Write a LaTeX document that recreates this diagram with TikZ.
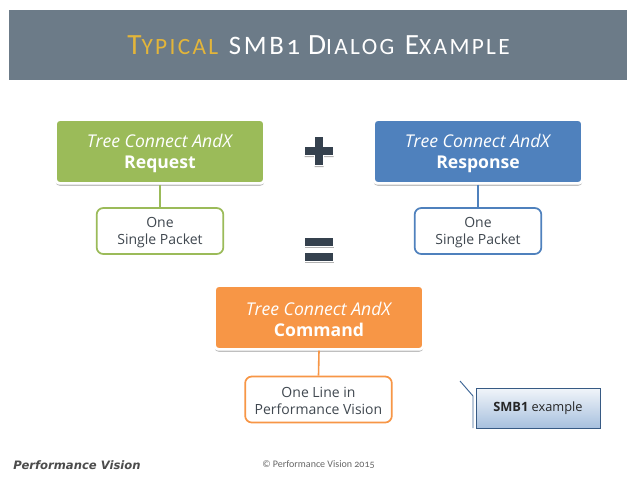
\documentclass[tikz,border=0pt]{standalone}
\usepackage{fontspec}
\setmainfont{Open Sans}
\newfontfamily\titlefont[Numbers=OldStyle]{Carlito}
\newfontfamily\logofont{DejaVu Sans}
\usetikzlibrary{shadows,calc}
\definecolor{banner}{HTML}{6C7B88}
\definecolor{titlegold}{HTML}{E3B53A}
\definecolor{cgreen}{HTML}{9BBB59}
\definecolor{cblue}{HTML}{4F81BD}
\definecolor{corange}{HTML}{F79646}
\definecolor{symb}{HTML}{35414E}
\definecolor{txt}{HTML}{404850}
\tikzset{
  x=0.75pt,y=-0.75pt,
  headbox/.style={draw=white,line width=2pt,rounded corners=3pt,text=white,align=center,
    minimum width=156.6pt,minimum height=47.8pt,inner sep=0pt,font=\fontsize{13.2}{15.8}\selectfont,
    drop shadow={shadow xshift=0pt,shadow yshift=-1.8pt,fill=black!50,opacity=.5}},
  subbox/.style={draw,fill=white,line width=1.3pt,rounded corners=5pt,text=txt,align=center,
    inner sep=0pt,minimum height=34.5pt,font=\fontsize{10.5}{12.8}\selectfont},
  link/.style={line width=1.2pt},
  symbar/.style={fill=symb,draw=white,line width=.8pt,drop shadow={shadow xshift=0pt,shadow yshift=-1.2pt,fill=black!55,opacity=.55}}
}
\newcommand{\capsmall}[2]{{\fontsize{22}{24}\selectfont #1}{\fontsize{17.5}{24}\selectfont #2}}
\newcommand{\headtext}[2]{\rule{0pt}{13pt}\textit{#1}\\\textbf{#2}}
\newcommand{\subtext}[2]{\rule{0pt}{10.5pt}#1\\#2}
\begin{document}
\begin{tikzpicture}
\useasboundingbox (0,0) rectangle (638,479);
\fill[white] (0,0) rectangle (638,479);
% banner
\fill[banner] (9,9.5) rectangle (627,79.5);
\node[anchor=center,inner sep=0pt,font=\titlefont,text=white] (title) at (318.5,45.5)
 {\addfontfeature{LetterSpace=10}\textcolor{titlegold}{\capsmall{T}{YPICAL}}\hspace{8pt}{\fontsize{20}{24}\selectfont SMB1}\hspace{6pt}\capsmall{D}{IALOG}\hspace{8pt}\capsmall{E}{XAMPLE}};
% head boxes
\node[headbox,fill=cgreen] (req) at (160,151.5) {\headtext{Tree Connect AndX}{Request}};
\node[headbox,fill=cblue] (resp) at (478,151.5) {\headtext{Tree Connect AndX}{Response}};
\node[headbox,fill=corange] (cmd) at (319,317.5) {\headtext{Tree Connect AndX}{Command}};
% sub boxes
\node[subbox,draw=cgreen,minimum width=95pt] (reqs) at (160,231) {\subtext{One}{Single Packet}};
\node[subbox,draw=cblue,minimum width=95pt] (resps) at (478,231) {\subtext{One}{Single Packet}};
\node[subbox,draw=corange,minimum width=110pt] (cmds) at (318.5,399.5) {\subtext{One Line in}{Performance Vision}};
% connectors
\draw[link,draw=cgreen] (req.south) -- (reqs.north);
\draw[link,draw=cblue] (resp.south) -- (resps.north);
\draw[link,draw=corange] (cmd.south) -- (cmds.north);
% plus
\path[symbar] (304.5,146.5) -- (314.5,146.5) -- (314.5,136.5) -- (323.5,136.5) -- (323.5,146.5) -- (333.5,146.5) -- (333.5,155.5) -- (323.5,155.5) -- (323.5,165.5) -- (314.5,165.5) -- (314.5,155.5) -- (304.5,155.5) -- cycle;
% equals
\path[symbar] (304.5,237.5) rectangle (333.5,246.5);
\path[symbar] (304.5,252.5) rectangle (333.5,261.5);
% callout
\coordinate (tip) at (460,381);
\coordinate (elbow) at (473,396);
\coordinate (elbowb) at (473,428);
\draw[cblue!80!black,line width=.7pt] (tip) -- (elbow) -- (elbowb);
\node[draw=cblue!70!black,line width=.7pt,minimum width=93pt,minimum height=30pt,inner sep=0pt,
  top color=cblue!8,bottom color=cblue!50,text=black!85,font=\fontsize{9.6}{12}\selectfont,
  drop shadow={shadow xshift=.6pt,shadow yshift=-.8pt,fill=black!40,opacity=.5}] (smb) at (538,408)
  {\textbf{SMB1} example};
% footer
\node[inner sep=0pt,font=\logofont\bfseries\itshape\fontsize{8.7}{10}\selectfont,text=black!70] (logo) at (77,465) {Performance Vision};
\node[inner sep=0pt,font=\titlefont\fontsize{7.5}{10}\selectfont,text=black!60] (copy) at (318.5,465) {© Performance Vision 2015};
\end{tikzpicture}
\end{document}
